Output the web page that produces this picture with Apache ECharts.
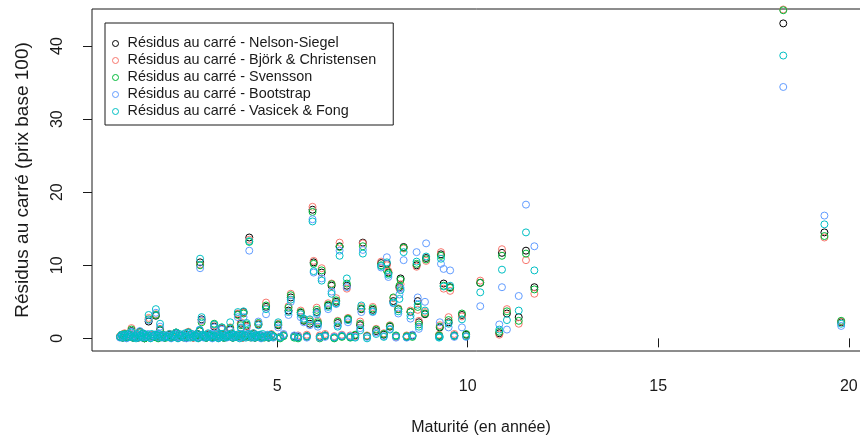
<!DOCTYPE html>
<html>
<head>
<meta charset="utf-8">
<script src="https://cdn.jsdelivr.net/npm/echarts@6/dist/echarts.min.js"></script>
<style>
  html, body { margin: 0; padding: 0; background: #ffffff; }
  #chart { width: 860px; height: 439px; }
</style>
</head>
<body>
<div id="chart"></div>
<script>
// Maturité de chaque obligation (en années)
const maturite = [
  0.88, 0.95, 1.00, 1.05, 1.12, 1.18, 1.22, 1.30, 1.36, 1.40,
  1.45, 1.52, 1.58, 1.63, 1.68, 1.75, 1.82, 1.88, 1.93, 1.98,
  2.05, 2.14, 2.22, 2.30, 2.35, 2.40, 2.47, 2.55, 2.62, 2.67,
  2.72, 2.80, 2.88, 2.93, 2.97, 2.98, 3.02, 3.08, 3.15, 3.22,
  3.30, 3.35, 3.40, 3.46, 3.52, 3.55, 3.60, 3.68, 3.72, 3.77,
  3.84, 3.90, 3.97, 4.02, 4.05, 4.10, 4.12, 4.18, 4.20, 4.27,
  4.34, 4.42, 4.48, 4.51, 4.58, 4.66, 4.71, 4.78, 4.90, 5.03,
  5.08, 5.17, 5.30, 5.36, 5.45, 5.55, 5.62, 5.70, 5.78, 5.86,
  5.93, 5.96, 6.04, 6.07, 6.12, 6.17, 6.26, 6.34, 6.43, 6.50,
  6.55, 6.59, 6.64, 6.70, 6.83, 6.86, 6.92, 7.05, 7.18, 7.21,
  7.25, 7.36, 7.51, 7.60, 7.73, 7.80, 7.88, 7.92, 7.96, 8.05,
  8.12, 8.18, 8.21, 8.24, 8.32, 8.40, 8.50, 8.55, 8.66, 8.69,
  8.72, 8.88, 8.91, 9.25, 9.27, 9.30, 9.37, 9.50, 9.54, 9.65,
  9.85, 9.96, 10.33, 10.83, 10.90, 11.03, 11.34, 11.53, 11.75, 18.28, 19.36, 19.80,
  // titres courts, résidus faibles
  0.92, 0.98, 1.08, 1.15, 1.26, 1.33, 1.42, 1.48, 1.55, 1.61,
  1.71, 1.79, 1.85, 1.91, 2.01, 2.09, 2.18, 2.26, 2.33, 2.44,
  2.51, 2.59, 2.70, 2.76, 2.84, 2.91, 3.05, 3.12, 3.19, 3.26,
  3.33, 3.43, 3.49, 3.57, 3.64, 3.75, 3.81, 3.87, 3.94, 4.00,
  4.08, 4.15, 4.24, 4.31, 4.38, 4.45, 4.55, 4.62, 4.75, 4.85
];

// Résidus au carré (prix base 100), un tableau par modèle
const nelsonSiegel = [
  0.2, 0.1, 0.5, 0.2, 0.3, 1.0, 0.1, 0.2, 0.1, 0.9,
  0.3, 0.0, 0.2, 2.3, 0.1, 0.3, 3.1, 0.1, 1.1, 0.2,
  0.1, 0.3, 0.1, 0.2, 0.7, 0.1, 0.3, 0.2, 0.1, 0.8,
  0.2, 0.1, 0.3, 0.1, 1.0, 10.4, 2.6, 0.2, 0.1, 0.3,
  0.1, 1.6, 0.2, 0.1, 0.3, 1.3, 0.1, 0.2, 0.4, 1.2,
  0.1, 0.3, 3.3, 0.2, 2.0, 0.1, 3.6, 0.3, 1.7, 13.8,
  0.2, 0.1, 0.3, 1.9, 0.1, 0.2, 4.3, 0.1, 0.3, 1.8,
  0.2, 0.4, 3.8, 5.6, 0.3, 0.2, 3.5, 2.4, 0.3, 2.0,
  17.6, 10.4, 3.6, 2.0, 0.2, 9.0, 0.4, 4.5, 7.2, 0.1,
  5.0, 2.1, 12.6, 0.3, 7.2, 2.6, 0.2, 0.4, 1.8, 4.0,
  13.1, 0.3, 3.9, 1.0, 10.3, 0.5, 10.2, 9.0, 1.6, 5.1,
  0.3, 4.0, 7.0, 8.2, 12.5, 0.2, 3.6, 0.4, 10.0, 5.1,
  2.2, 3.3, 11.0, 0.3, 1.5, 11.5, 7.5, 2.2, 7.0, 0.4,
  3.2, 0.5, 7.6, 0.7, 11.7, 3.4, 2.9, 12.0, 7.0, 43.1, 14.5, 2.2,
  0.4, 0.2, 0.3, 0.5, 0.2, 0.4, 0.3, 0.6, 0.2, 0.3,
  0.4, 0.2, 0.5, 0.3, 0.4, 0.2, 0.5, 0.3, 0.2, 0.4,
  0.3, 0.5, 0.2, 0.4, 0.3, 0.6, 0.4, 0.2, 0.5, 0.3,
  0.2, 0.4, 0.3, 0.5, 0.2, 0.4, 0.6, 0.3, 0.2, 0.4,
  0.5, 0.3, 0.4, 0.2, 0.6, 0.3, 0.4, 0.2, 0.3, 0.5
];
const bjorkChristensen = [
  0.3, 0.2, 0.7, 0.1, 0.4, 1.4, 0.2, 0.3, 0.1, 0.8,
  0.2, 0.1, 0.3, 2.8, 0.2, 0.2, 3.3, 0.1, 1.3, 0.3,
  0.2, 0.2, 0.1, 0.3, 0.8, 0.2, 0.3, 0.1, 0.2, 0.9,
  0.3, 0.1, 0.2, 0.2, 1.1, 10.1, 2.4, 0.3, 0.2, 0.2,
  0.1, 1.8, 0.3, 0.2, 0.2, 1.4, 0.1, 0.3, 0.3, 1.5,
  0.2, 0.2, 3.4, 0.3, 2.2, 0.1, 3.5, 0.2, 1.6, 13.5,
  0.3, 0.2, 0.2, 2.0, 0.1, 0.3, 4.9, 0.2, 0.2, 2.0,
  0.1, 0.5, 4.4, 6.1, 0.2, 0.4, 3.8, 2.6, 0.5, 2.5,
  18.0, 10.6, 4.2, 2.4, 0.4, 9.6, 0.6, 4.8, 7.5, 0.3,
  5.5, 2.4, 13.1, 0.5, 6.8, 2.8, 0.4, 0.3, 2.3, 4.3,
  13.0, 0.4, 4.3, 1.3, 10.5, 0.7, 10.0, 9.2, 1.8, 5.5,
  0.2, 4.1, 6.8, 7.4, 12.3, 0.4, 3.8, 0.3, 9.8, 3.9,
  2.4, 3.6, 10.6, 0.5, 1.8, 11.8, 6.8, 2.9, 6.5, 0.6,
  3.0, 0.3, 7.9, 0.5, 12.2, 4.0, 2.0, 10.7, 6.1, 45.0, 13.8, 2.3,
  0.5, 0.3, 0.2, 0.6, 0.3, 0.5, 0.2, 0.5, 0.3, 0.4,
  0.5, 0.3, 0.4, 0.2, 0.5, 0.3, 0.6, 0.2, 0.3, 0.5,
  0.4, 0.6, 0.3, 0.5, 0.2, 0.5, 0.3, 0.3, 0.6, 0.4,
  0.3, 0.5, 0.2, 0.6, 0.3, 0.5, 0.5, 0.4, 0.3, 0.5,
  0.6, 0.2, 0.5, 0.3, 0.7, 0.4, 0.3, 0.3, 0.4, 0.6
];
const svensson = [
  0.2, 0.1, 0.6, 0.2, 0.3, 1.2, 0.1, 0.2, 0.2, 0.9,
  0.3, 0.0, 0.2, 2.6, 0.1, 0.2, 3.2, 0.0, 1.2, 0.2,
  0.1, 0.3, 0.1, 0.2, 0.8, 0.1, 0.2, 0.2, 0.1, 0.8,
  0.2, 0.2, 0.3, 0.1, 1.0, 10.0, 2.2, 0.2, 0.1, 0.2,
  0.2, 2.0, 0.2, 0.1, 0.3, 1.5, 0.1, 0.2, 0.4, 1.4,
  0.1, 0.3, 3.2, 0.2, 1.8, 0.2, 3.4, 0.3, 1.9, 13.2,
  0.2, 0.1, 0.2, 2.1, 0.2, 0.1, 4.5, 0.2, 0.3, 1.9,
  0.0, 0.3, 4.2, 5.9, 0.1, 0.0, 3.6, 2.5, 0.2, 2.3,
  17.3, 10.2, 3.9, 2.2, 0.0, 9.3, 0.3, 4.6, 7.4, 0.0,
  5.2, 2.3, 12.5, 0.2, 7.5, 2.7, 0.1, 0.5, 2.0, 4.1,
  12.6, 0.3, 4.1, 1.2, 10.0, 0.6, 9.3, 8.9, 1.7, 5.6,
  0.4, 4.0, 7.2, 8.0, 12.4, 0.3, 3.6, 0.2, 10.2, 4.3,
  1.9, 3.4, 10.8, 0.4, 1.6, 11.3, 7.2, 2.5, 6.9, 0.3,
  3.4, 0.6, 7.6, 0.9, 11.3, 3.7, 2.4, 11.6, 6.7, 44.9, 14.0, 2.4,
  0.4, 0.2, 0.3, 0.4, 0.2, 0.3, 0.4, 0.6, 0.1, 0.3,
  0.3, 0.2, 0.4, 0.3, 0.3, 0.1, 0.4, 0.3, 0.2, 0.3,
  0.2, 0.4, 0.2, 0.3, 0.3, 0.5, 0.3, 0.1, 0.4, 0.2,
  0.2, 0.3, 0.3, 0.4, 0.1, 0.3, 0.5, 0.2, 0.2, 0.3,
  0.4, 0.3, 0.3, 0.1, 0.5, 0.2, 0.3, 0.2, 0.2, 0.4
];
const bootstrap = [
  0.1, 0.3, 0.4, 0.0, 0.2, 0.9, 0.3, 0.1, 0.2, 1.0,
  0.1, 0.2, 0.4, 2.5, 0.1, 0.4, 3.5, 0.2, 1.6, 0.1,
  0.3, 0.2, 0.0, 0.4, 0.6, 0.1, 0.2, 0.3, 0.0, 0.7,
  0.2, 0.3, 0.1, 0.2, 1.2, 9.6, 2.5, 0.1, 0.3, 0.2,
  0.0, 1.5, 0.4, 0.1, 0.2, 1.2, 0.3, 0.1, 0.2, 1.1,
  0.2, 0.4, 2.9, 0.1, 1.5, 0.3, 2.9, 0.2, 1.4, 12.0,
  0.1, 0.2, 0.4, 2.3, 0.0, 0.2, 3.3, 0.3, 0.1, 1.5,
  0.2, 0.6, 3.2, 5.0, 0.4, 0.3, 2.9, 2.2, 0.1, 1.8,
  16.3, 9.0, 3.3, 1.6, 0.1, 8.2, 0.2, 4.0, 6.4, 0.2,
  4.7, 1.8, 12.0, 0.4, 7.0, 2.2, 0.3, 0.2, 1.4, 3.6,
  12.1, 0.2, 3.6, 0.8, 9.7, 0.3, 11.1, 8.4, 1.3, 4.8,
  0.1, 3.4, 6.0, 6.9, 10.7, 0.1, 2.7, 0.5, 11.8, 5.6,
  1.3, 5.0, 13.0, 0.2, 2.2, 10.2, 9.5, 1.5, 9.3, 0.2,
  1.5, 0.2, 4.4, 1.9, 7.0, 1.2, 5.8, 18.3, 12.6, 34.4, 16.8, 1.7,
  0.3, 0.5, 0.4, 0.7, 0.4, 0.2, 0.5, 0.4, 0.3, 0.6,
  0.2, 0.4, 0.6, 0.5, 0.2, 0.4, 0.3, 0.5, 0.4, 0.2,
  0.5, 0.3, 0.4, 0.6, 0.5, 0.3, 0.2, 0.4, 0.3, 0.6,
  0.4, 0.2, 0.5, 0.3, 0.4, 0.6, 0.3, 0.5, 0.4, 0.2,
  0.3, 0.5, 0.6, 0.4, 0.3, 0.5, 0.2, 0.4, 0.5, 0.3
];
const vasicekFong = [
  0.2, 0.1, 0.5, 0.1, 0.2, 0.8, 0.1, 0.0, 0.1, 0.7,
  0.2, 0.1, 0.2, 3.2, 0.0, 0.3, 4.0, 0.1, 2.0, 0.2,
  0.1, 0.2, 0.1, 0.2, 0.8, 0.0, 0.3, 0.1, 0.2, 0.8,
  0.1, 0.2, 0.2, 0.0, 1.1, 10.9, 2.9, 0.2, 0.1, 0.3,
  0.1, 1.9, 0.2, 0.0, 0.2, 1.5, 0.1, 0.2, 0.3, 2.2,
  0.1, 0.2, 3.6, 0.0, 1.4, 0.2, 3.7, 0.1, 2.1, 13.3,
  0.2, 0.1, 0.3, 1.8, 0.1, 0.2, 4.0, 0.1, 0.2, 2.2,
  0.1, 0.4, 3.6, 5.3, 0.2, 0.1, 3.3, 2.7, 0.3, 2.6,
  16.0, 9.2, 3.5, 1.9, 0.2, 7.9, 0.4, 4.3, 6.1, 0.1,
  4.8, 1.6, 11.3, 0.3, 8.2, 2.5, 0.2, 0.1, 1.1, 4.5,
  11.6, 0.0, 3.7, 0.6, 9.9, 0.2, 10.4, 8.7, 1.2, 4.9,
  0.3, 3.7, 5.4, 6.6, 11.8, 0.2, 3.1, 0.3, 10.5, 4.6,
  1.6, 3.8, 11.2, 0.1, 0.2, 10.9, 7.1, 2.0, 7.2, 0.4,
  2.6, 0.3, 6.3, 1.2, 9.4, 2.5, 3.8, 14.5, 9.3, 38.7, 15.6, 2.0,
  0.5, 0.4, 0.6, 0.5, 0.3, 0.6, 0.4, 0.7, 0.5, 0.4,
  0.6, 0.5, 0.4, 0.6, 0.5, 0.3, 0.6, 0.4, 0.5, 0.6,
  0.4, 0.7, 0.5, 0.6, 0.4, 0.6, 0.5, 0.4, 0.7, 0.5,
  0.4, 0.6, 0.5, 0.6, 0.4, 0.5, 0.7, 0.5, 0.4, 0.6,
  0.5, 0.4, 0.6, 0.5, 0.7, 0.4, 0.5, 0.6, 0.4, 0.5
];

// Graduations des axes
const xTicks = [5, 10, 15, 20];
const yTicks = [0, 10, 20, 30, 40];

const modeles = [
  { name: 'Résidus au carré - Nelson-Siegel',       values: nelsonSiegel,     color: '#000000' },
  { name: 'Résidus au carré - Björk & Christensen', values: bjorkChristensen, color: '#F8766D' },
  { name: 'Résidus au carré - Svensson',            values: svensson,         color: '#00BA38' },
  { name: 'Résidus au carré - Bootstrap',           values: bootstrap,        color: '#619CFF' },
  { name: 'Résidus au carré - Vasicek & Fong',      values: vasicekFong,      color: '#00BFC4' }
];

const FONT = '"Liberation Sans", Arial, sans-serif';
const INK = '#1a1a1a';

const chart = echarts.init(document.getElementById('chart'), null, { renderer: 'canvas' });

chart.setOption({
  animation: false,
  backgroundColor: '#ffffff',
  grid: {
    left: 92, right: -10, top: 9, bottom: 88,
    outerBoundsMode: 'none',
    containLabel: false,
    show: true, borderColor: INK, borderWidth: 1, backgroundColor: 'transparent'
  },
  xAxis: {
    type: 'value',
    min: 0.144, max: 20.556,
    splitLine: { show: false },
    axisLine: { show: false },
    axisTick: { show: true, length: 9, lineStyle: { color: INK }, customValues: xTicks },
    axisLabel: { customValues: xTicks, margin: 28, fontSize: 16, color: INK, fontFamily: FONT },
    name: 'Maturité (en année)',
    nameLocation: 'middle',
    nameGap: 69,
    nameTextStyle: { fontSize: 16, color: INK, fontFamily: FONT }
  },
  yAxis: {
    type: 'value',
    min: -1.73, max: 45.07,
    splitLine: { show: false },
    axisLine: { show: false },
    axisTick: { show: true, length: 9, lineStyle: { color: INK }, customValues: yTicks },
    axisLabel: { customValues: yTicks, rotate: 90, margin: 26, fontSize: 16, color: INK, fontFamily: FONT },
    name: 'Résidus au carré (prix base 100)',
    nameLocation: 'middle',
    nameGap: 60,
    nameTextStyle: { fontSize: 19, color: INK, fontFamily: FONT }
  },
  legend: {
    orient: 'vertical',
    left: 105, top: 23,
    padding: [13, 17, 6, 7],
    borderColor: INK, borderWidth: 1,
    backgroundColor: '#ffffff',
    itemWidth: 14, itemHeight: 6, itemGap: 2,
    selectedMode: false,
    icon: 'circle',
    textStyle: { fontSize: 14.4, fontFamily: FONT, color: INK, lineHeight: 15 },
    data: modeles.map(m => ({
      name: m.name,
      itemStyle: { color: 'transparent', borderColor: m.color, borderWidth: 1 }
    }))
  },
  series: modeles.map(m => ({
    type: 'scatter',
    name: m.name,
    data: maturite.map((x, i) => [x, m.values[i]]),
    symbol: 'circle',
    symbolSize: 7,
    itemStyle: { color: 'transparent', borderColor: m.color, borderWidth: 1, opacity: 1 },
    emphasis: { disabled: true },
    silent: true
  }))
});
</script>
</body>
</html>
